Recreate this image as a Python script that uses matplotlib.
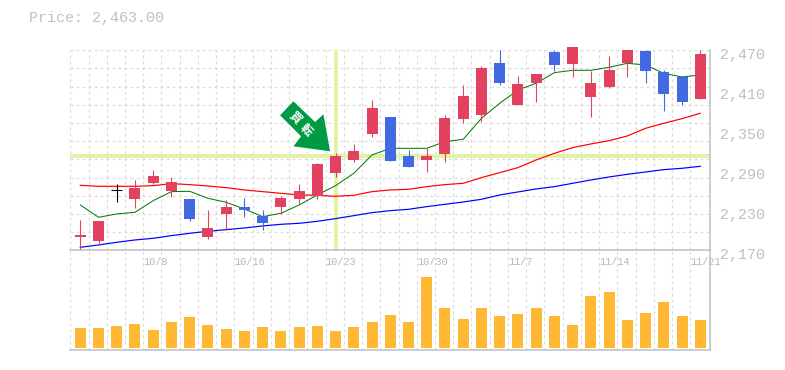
import numpy as np
import matplotlib
matplotlib.use("Agg")
import matplotlib.pyplot as plt
from matplotlib.patches import Polygon
from matplotlib.transforms import Affine2D, ScaledTranslation

plt.rcParams["font.family"] = ["Liberation Mono", "DejaVu Sans Mono"]
plt.rcParams["lines.scale_dashes"] = False

opens = [2190, 2184, 2261, 2247, 2271, 2259, 2247, 2190, 2224.5, 2235, 2221.5, 2235,
         2247, 2251.5, 2286, 2305.5, 2344.5, 2370, 2311.5, 2305.5, 2314.5, 2367, 2373,
         2451, 2388, 2421, 2467.5, 2449.5, 2400, 2415, 2451, 2469, 2437.5, 2430, 2397]
closes = [2193, 2214, 2261, 2263.5, 2281.5, 2272.5, 2217, 2203.5, 2235, 2230.5, 2211, 2248.5,
          2259, 2299.5, 2311.5, 2319, 2383.5, 2304, 2295, 2311.5, 2368.5, 2401.5, 2443.5,
          2421, 2419.5, 2434.5, 2448, 2475, 2421, 2440.5, 2470.5, 2439, 2404.5, 2392.5, 2464.5]
highs = [2215.5, 2214, 2269.5, 2275.5, 2290.5, 2280, 2247, 2230.5, 2245.5, 2248.5, 2230.5, 2251.5,
         2269.5, 2301, 2316, 2329.5, 2395.5, 2370, 2320.5, 2323.5, 2373, 2418, 2446.5,
         2470.5, 2431.5, 2434.5, 2470.5, 2475, 2439, 2461.5, 2470.5, 2470.5, 2440.5, 2431.5, 2470.5]
lows = [2171.5, 2178, 2242.5, 2233.5, 2269.5, 2250, 2214, 2187, 2200.5, 2220, 2200.5, 2224.5,
        2239.5, 2247, 2280, 2302.5, 2340, 2304, 2295, 2287.5, 2302.5, 2361, 2362.5,
        2418, 2388, 2392.5, 2439, 2430, 2370, 2413.5, 2430, 2421, 2379, 2388, 2397]
ma_short = [2238, 2219.5, 2224.5, 2227, 2244.5, 2258, 2258.5, 2248, 2242, 2232, 2220.5, 2225.5,
            2238, 2253, 2267, 2285.5, 2313, 2323, 2323, 2323, 2333, 2336.5, 2368,
            2390.5, 2410.5, 2420.5, 2436.5, 2440, 2440, 2444.5, 2450.5, 2448, 2435.5, 2430, 2433]
ma_mid = [2267.5, 2266, 2266, 2266, 2267, 2270, 2268.5, 2266.5, 2264, 2260.5, 2258, 2255.5,
          2253, 2252.5, 2251, 2252.5, 2258, 2260.5, 2261.5, 2265.5, 2268.5, 2270.5, 2279,
          2286.5, 2294, 2305.5, 2315.5, 2324, 2329.5, 2334.5, 2341.5, 2353, 2360.5, 2367.5, 2375.5]
ma_long = [2174.5, 2178, 2182, 2185.5, 2188, 2192, 2195.5, 2198.5, 2201, 2203.5, 2206.5, 2209,
           2210.5, 2213.5, 2217.5, 2222, 2226.5, 2229.5, 2231.5, 2235.5, 2239, 2242.5, 2246.5,
           2253, 2257.5, 2262, 2265.5, 2270.5, 2275.5, 2280, 2284, 2287.5, 2291, 2293, 2296]
volumes = [20, 20, 22, 24, 18, 26, 31, 23, 19, 17, 21, 17, 21, 22, 17, 21, 26, 33,
           26, 71, 40, 29, 40, 32, 34, 40, 32, 23, 52, 56, 28, 35, 46, 32, 28]

price_ticks = [2170, 2230, 2290, 2350, 2410, 2470]
date_pos = [4, 9, 14, 19, 24, 29, 34]
date_labels = ["10/8", "10/16", "10/23", "10/30", "11/7", "11/14", "11/21"]
signal_day = 14
signal_price = 2311
title = "Price: 2,463.00"

W, H = 785, 370
UP = "#e2425f"
DOWN = "#4169e1"
DOJI = "#000000"
VOL = "#ffb833"
HILITE = "#e4f2a6"
GRID = "#dcdcdc"
AXIS = "#bdbdbd"
TEXT = "#c0c0c0"
PX = 72 / 100


def make_axes(top, bottom):
    return fig.add_axes([70.3 / W, 1 - bottom / H, 640 / W, (bottom - top) / H])


fig = plt.figure(figsize=(W / 100, H / 100), dpi=100)
ax = make_axes(50.3, 250.3)
vax = make_axes(250.3, 350.3)
x = np.arange(len(closes))
xlim = (-0.548, 34.55)

for a in (ax, vax):
    a.set_xlim(xlim)
    a.patch.set_alpha(0)
    for s in a.spines.values():
        s.set_visible(False)
    a.spines["bottom"].set_visible(True)
    a.spines["bottom"].set_color(AXIS)
    a.spines["bottom"].set_linewidth(1.5 * PX)
    a.spines["right"].set_visible(True)
    a.spines["right"].set_color(AXIS)
    a.spines["right"].set_linewidth(1.5 * PX)
    a.tick_params(length=0)
    a.set_xticks(x - 0.548, minor=True)
    a.grid(True, axis="x", which="minor", color=GRID, lw=1.2 * PX, ls=(0, (3 * PX, 3 * PX)), zorder=0)
    a.tick_params(which="minor", length=0)
    a.set_axisbelow(True)

ax.set_ylim(2170, 2470)
ax.hlines(np.linspace(2170, 2470, 12)[1:], xlim[0], xlim[1], color=GRID, lw=1.2 * PX,
          ls=(0, (3 * PX, 3 * PX)), zorder=0.5)

ax.axhline(signal_price, color=HILITE, lw=4 * PX, zorder=1)
ax.axvline(signal_day, color=HILITE, lw=4 * PX, ymax=1, zorder=1)

ax.plot(x, ma_long, color="#0000ff", lw=1.2 * PX, zorder=2)
ax.plot(x, ma_mid, color="#ff0000", lw=1.2 * PX, zorder=2)
ax.plot(x, ma_short, color="#007700", lw=1.0 * PX, zorder=2)

for i in x:
    o, c = opens[i], closes[i]
    col = DOJI if o == c else (UP if c > o else DOWN)
    ax.vlines(i, lows[i], highs[i], color=col, lw=1.1 * PX, zorder=3, clip_on=False)
    if o == c:
        ax.hlines(o, i - 0.3, i + 0.3, color=col, lw=1.1 * PX, zorder=3)
    else:
        ax.bar(i, abs(c - o), bottom=min(o, c), width=11 / 18.235, color=col, zorder=3,
               linewidth=0, clip_on=False)

vax.bar(x, volumes, width=11 / 18.235, color=VOL, linewidth=0, zorder=3)
vax.set_ylim(-2.3, 97.7)
vax.set_yticks([])
vax.set_xticks([])

# price labels sit a little below their level, date labels start left of the candle
ax.yaxis.tick_right()
ax.set_yticks(price_ticks)
ax.set_yticklabels([f"{p:,}" for p in price_ticks], fontsize=10.8, color=TEXT)
ax.tick_params(axis="y", pad=7, length=0)
shift = ScaledTranslation(0, -3 / 100, fig.dpi_scale_trans)
for lab in ax.get_yticklabels():
    lab.set_transform(lab.get_transform() + shift)

ax.set_xticks(date_pos)
ax.set_xticklabels(date_labels, fontsize=7.4, color="#b8b8b8", ha="left")
ax.tick_params(axis="x", pad=5, length=0)
shift = ScaledTranslation(-10 / 100, 0, fig.dpi_scale_trans)
for lab in ax.get_xticklabels():
    lab.set_transform(lab.get_transform() + shift)

fig.text(29 / W, 1 - 18 / H, title, fontsize=10.8, color=TEXT, va="center", ha="left")

# arrow outline in pixels relative to its tip, hung on the signal day
arrow_shape = [(0, 0), (-6.7, 37), (-15, 29.3), (-36.7, 50), (-50, 36), (-29, 15), (-36.7, 5)]
tx, ty = ax.transData.transform((signal_day - 0.3, signal_price))
ty += 5
ax.add_patch(Polygon(arrow_shape, closed=True, transform=Affine2D().translate(tx, ty),
                     facecolor="#009944", edgecolor="none", zorder=5, clip_on=False))
for t, dx, dy in (("買", -35, 33), ("転", -24, 21)):
    ax.annotate(t, xy=(tx + dx, ty + dy), xycoords="figure pixels",
                family=["Noto Sans CJK JP", "DejaVu Sans"], fontsize=8.5, fontweight="bold", color="white",
                rotation=-45, ha="center", va="center", zorder=6, annotation_clip=False)

fig.savefig("out.png", dpi=100)
